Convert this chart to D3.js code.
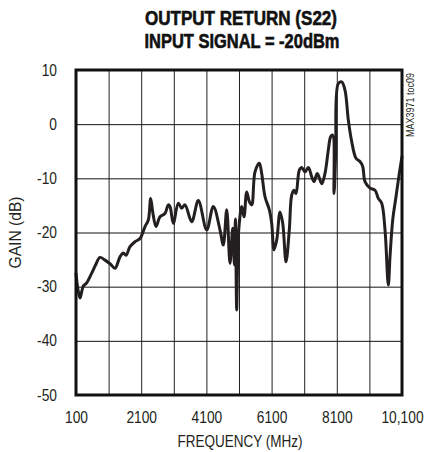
<!DOCTYPE html>
<html>
<head>
<meta charset="utf-8">
<script src="https://cdn.jsdelivr.net/npm/d3@7"></script>
<style>
  html, body { margin: 0; padding: 0; background: #fff; }
  svg { display: block; }
</style>
</head>
<body>
<svg id="chart" width="440" height="452"></svg>
<script>
// ---- data ----
const freqMHz = [100, 160, 223, 280, 324, 428, 582, 700, 836, 990, 1150, 1296, 1450, 1551, 1634, 1757, 1910, 2064, 2217, 2318, 2391, 2453, 2554, 2677, 2830, 2931, 2983, 3085, 3238, 3342, 3444, 3649, 3852, 4109, 4312, 4517, 4618, 4723, 4824, 4907, 4960, 4990, 5029, 5070, 5109, 5183, 5254, 5336, 5416, 5490, 5591, 5723, 5796, 5898, 6030, 6103, 6174, 6257, 6358, 6441, 6542, 6643, 6717, 6787, 6849, 6950, 7024, 7125, 7226, 7330, 7401, 7502, 7637, 7738, 7839, 7913, 7974, 8014, 8066, 8146, 8250, 8351, 8453, 8557, 8689, 8812, 8895, 8965, 9118, 9272, 9373, 9477, 9579, 9680, 9732, 9815, 9916, 10017, 10100];
const gainDb = [-27.6, -30.5, -32.1, -30.8, -29.9, -29.3, -27.5, -26.0, -24.6, -25.1, -25.8, -26.6, -24.5, -23.8, -24.2, -22.6, -21.7, -21.1, -18.9, -17.7, -13.7, -16.2, -18.9, -17.1, -16.5, -14.9, -15.2, -18.3, -14.6, -15.5, -14.9, -18.0, -14.1, -19.5, -15.2, -19.5, -22.3, -15.8, -25.7, -19.2, -26.0, -17.5, -34.3, -22.0, -18.3, -15.2, -17.1, -12.5, -14.3, -14.9, -8.8, -7.2, -9.1, -13.4, -15.8, -18.3, -23.2, -21.4, -16.2, -18.3, -25.4, -19.5, -13.1, -12.2, -12.8, -8.5, -8.0, -8.8, -8.0, -9.7, -10.6, -9.1, -11.0, -9.1, -4.8, -2.3, -2.0, -12.8, -5.4, 7.5, 7.8, 6.3, 0.8, -3.2, -6.3, -6.9, -7.8, -10.6, -11.8, -12.2, -13.7, -14.6, -19.5, -29.7, -24.5, -17.7, -13.4, -9.1, -6.0];
const xGridValues = [100, 1100, 2100, 3100, 4100, 5100, 6100, 7100, 8100, 9100, 10100];
const xTickValues = [100, 2100, 4100, 6100, 8100, 10100];
const xTickLabels = ["100", "2100", "4100", "6100", "8100", "10,100"];
const yTickValues = [10, 0, -10, -20, -30, -40, -50];
const yTickLabels = ["10", "0", "-10", "-20", "-30", "-40", "-50"];
const titleLines = ["OUTPUT RETURN (S22)", "INPUT SIGNAL = -20dBm"];
const xAxisTitle = "FREQUENCY (MHz)";
const yAxisTitle = "GAIN (dB)";
const figureTag = "MAX3971 toc09";

// ---- layout ----
const W = 440, H = 452;
const m = { left: 76, right: 38, top: 70, bottom: 57 };
const pw = W - m.left - m.right, ph = H - m.top - m.bottom;
const svg = d3.select("#chart");
const font = "'Liberation Sans', Arial, sans-serif";

function narrow(sel, k) {
  sel.each(function () {
    const len = this.getComputedTextLength();
    d3.select(this).attr("textLength", len * k).attr("lengthAdjust", "spacingAndGlyphs");
  });
}

const x = d3.scaleLinear().domain([100, 10100]).range([m.left, m.left + pw]);
const y = d3.scaleLinear().domain([-50, 10]).range([m.top + ph, m.top]);

// grid via axes
const gx = svg.append("g").attr("transform", `translate(0,${m.top + ph})`)
  .call(d3.axisBottom(x).tickValues(xGridValues).tickSize(-ph).tickFormat(""));
gx.select(".domain").remove();
gx.selectAll("line").attr("stroke", "#222").attr("stroke-width", 1);

const gy = svg.append("g").attr("transform", `translate(${m.left},0)`)
  .call(d3.axisLeft(y).tickValues(yTickValues).tickSize(-pw).tickFormat(""));
gy.select(".domain").remove();
gy.selectAll("line").attr("stroke", "#111").attr("stroke-width", 1);

// tick labels
const xLab = svg.append("g").attr("transform", `translate(0,${m.top + ph})`)
  .call(d3.axisBottom(x).tickValues(xTickValues).tickSize(0).tickPadding(17)
    .tickFormat((d, i) => xTickLabels[i]));
xLab.select(".domain").remove();
xLab.selectAll("text").attr("font-family", font).attr("font-size", 16).attr("fill", "#231f20")
  .call(narrow, 0.86);

const yLab = svg.append("g").attr("transform", `translate(${m.left},0)`)
  .call(d3.axisLeft(y).tickValues(yTickValues).tickSize(0).tickPadding(19)
    .tickFormat((d, i) => yTickLabels[i]));
yLab.select(".domain").remove();
yLab.selectAll("text").attr("font-family", font).attr("font-size", 16).attr("fill", "#231f20")
  .call(narrow, 0.86);

// curve
const lineGen = d3.line()
  .x(d => x(d[0])).y(d => y(d[1]))
  .curve(d3.curveCatmullRom.alpha(0.5));
const pts = freqMHz.map((f, i) => [f, gainDb[i]]);
svg.append("path").datum(pts)
  .attr("d", lineGen)
  .attr("fill", "none")
  .attr("stroke", "#231f20")
  .attr("stroke-width", 3)
  .attr("stroke-linejoin", "round")
  .attr("stroke-linecap", "round");

// frame
svg.append("rect").attr("x", m.left).attr("y", m.top).attr("width", pw).attr("height", ph)
  .attr("fill", "none").attr("stroke", "#111").attr("stroke-width", 3);

// titles
svg.append("text").attr("x", 241).attr("y", 25).attr("text-anchor", "middle")
  .attr("font-family", font).attr("font-weight", "bold").attr("font-size", 20)
  .attr("stroke", "#111").attr("stroke-width", 0.6)
  .attr("textLength", 192).attr("lengthAdjust", "spacingAndGlyphs")
  .attr("fill", "#111").text(titleLines[0]);
svg.append("text").attr("x", 242).attr("y", 48).attr("text-anchor", "middle")
  .attr("font-family", font).attr("font-weight", "bold").attr("font-size", 20)
  .attr("stroke", "#111").attr("stroke-width", 0.6)
  .attr("textLength", 195).attr("lengthAdjust", "spacingAndGlyphs")
  .attr("fill", "#111").text(titleLines[1]);

svg.append("text").attr("x", (m.left + m.left + pw) / 2 + 1).attr("y", 447).attr("text-anchor", "middle")
  .attr("font-family", font).attr("font-size", 16).attr("fill", "#231f20")
  .attr("textLength", 125).attr("lengthAdjust", "spacingAndGlyphs").text(xAxisTitle);

svg.append("text").attr("transform", `translate(21,${m.top + ph / 2}) rotate(-90)`)
  .attr("text-anchor", "middle")
  .attr("font-family", font).attr("font-size", 16).attr("fill", "#231f20")
  .attr("textLength", 72).attr("lengthAdjust", "spacingAndGlyphs").text(yAxisTitle);

svg.append("text").attr("transform", `translate(414,105) rotate(-90)`)
  .attr("text-anchor", "middle")
  .attr("font-family", font).attr("font-size", 10).attr("fill", "#231f20")
  .attr("textLength", 64).attr("lengthAdjust", "spacingAndGlyphs").text(figureTag);
</script>
</body>
</html>
